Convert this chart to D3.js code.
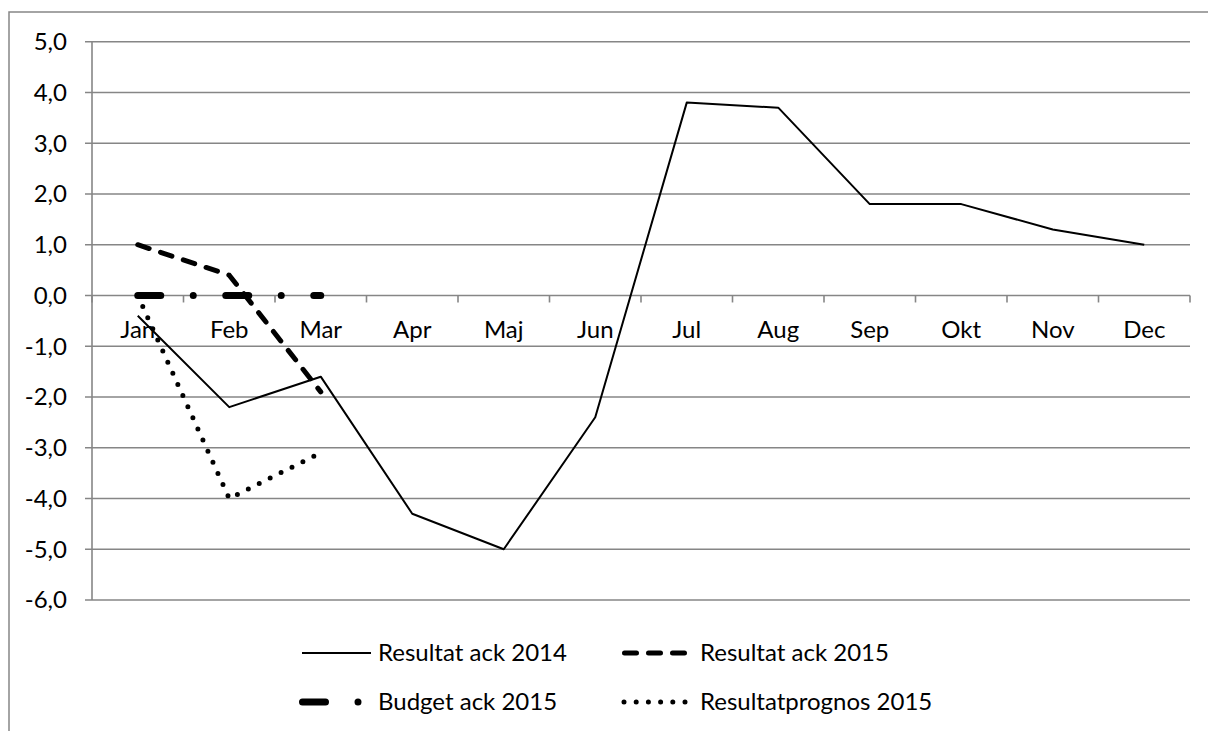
<!DOCTYPE html>
<html><head><meta charset="utf-8">
<script src="https://cdn.jsdelivr.net/npm/d3@7"></script>
<style>
html,body{margin:0;padding:0;background:#fff;}
svg{display:block;}
text{font-family:Lato,"Open Sans",sans-serif;fill:#000;}
</style></head>
<body>
<svg id="chart" width="1208" height="731"></svg>
<script>
const months = ["Jan","Feb","Mar","Apr","Maj","Jun","Jul","Aug","Sep","Okt","Nov","Dec"];
const resultat2014 = [-0.4,-2.2,-1.6,-4.3,-5.0,-2.4,3.8,3.7,1.8,1.8,1.3,1.0];
const resultat2015 = [1.0,0.4,-1.9];
const budget2015 = [0.0,0.0,0.0];
const prognos2015 = [0.0,-4.0,-3.1];
const yTicks = [5,4,3,2,1,0,-1,-2,-3,-4,-5,-6];
const seriesNames = ["Resultat ack 2014","Resultat ack 2015","Budget ack 2015","Resultatprognos 2015"];

const svg = d3.select("#chart");
const grey = "#868686";

// font sizing to match Calibri-like metrics
const probe = svg.append("text").attr("font-size",100).text("Resultat ack 2014");
const fs = 100 * 189 / probe.node().getComputedTextLength();
probe.remove();

// outer border
svg.append("rect").attr("x",9).attr("y",12).attr("width",1260).attr("height",760)
  .attr("fill","none").attr("stroke",grey).attr("stroke-width",1.5);

const x = d3.scaleBand().domain(months).range([92,1190]);
const y = d3.scaleLinear().domain([-6,5]).range([600,41.7]);
const cx = m => x(m) + x.bandwidth()/2;

// gridlines
svg.append("g").selectAll("line").data(yTicks).join("line")
  .attr("x1",85).attr("x2",1190)
  .attr("y1",d=>y(d)).attr("y2",d=>y(d))
  .attr("stroke",grey).attr("stroke-width",1.6);
// left axis line
svg.append("line").attr("x1",92).attr("x2",92).attr("y1",y(5)).attr("y2",y(-6))
  .attr("stroke",grey).attr("stroke-width",1.6);
// y tick labels
svg.append("g").selectAll("text").data(yTicks).join("text")
  .attr("x",67).attr("y",d=>y(d)).attr("dy","0.35em").attr("text-anchor","end")
  .attr("font-size",fs).text(d=>d3.format(".1f")(d).replace(".",",").replace("−","-"));

// x axis ticks at category boundaries along the zero line
const bounds = months.map(m=>x(m)).concat([x.range()[1]]);
svg.append("g").selectAll("line").data(bounds).join("line")
  .attr("x1",d=>d).attr("x2",d=>d).attr("y1",y(0)).attr("y2",y(0)+7)
  .attr("stroke",grey).attr("stroke-width",1.6);
svg.append("g").selectAll("text").data(months).join("text")
  .attr("x",d=>cx(d)).attr("y",330).attr("dy","0.35em").attr("text-anchor","middle")
  .attr("font-size",fs).text(d=>d);

const line = d3.line().x((d,i)=>cx(months[i])).y(d=>y(d));

const styles = [
  {w:2, dash:null, cap:"butt"},
  {w:5, dash:"12,12", cap:"round"},
  {w:7, dash:"23,32.5,0,32.5", cap:"round"},
  {w:5, dash:"0,12.2", cap:"round"}
];
const data = [resultat2014,resultat2015,budget2015,prognos2015];

data.forEach((d,i)=>{
  const s = styles[i];
  svg.append("path").datum(d).attr("d",line).attr("fill","none")
    .attr("stroke","#000").attr("stroke-width",s.w)
    .attr("stroke-linecap",s.cap).attr("stroke-linejoin","round")
    .attr("stroke-dasharray",s.dash);
});

// legend
const legPos = [
  {x1:302,x2:371,tx:378,ty:653},
  {x1:624.5,x2:686,tx:700,ty:653},
  {x1:302.5,x2:372,tx:378,ty:702},
  {x1:624,x2:686,tx:700,ty:702}
];
seriesNames.forEach((n,i)=>{
  const s = styles[i], p = legPos[i];
  svg.append("line").attr("x1",p.x1).attr("x2",p.x2).attr("y1",p.ty).attr("y2",p.ty)
    .attr("stroke","#000").attr("stroke-width",s.w).attr("stroke-linecap",s.cap)
    .attr("stroke-dasharray",s.dash);
  svg.append("text").attr("x",p.tx).attr("y",p.ty).attr("dy","0.35em")
    .attr("font-size",fs).text(n);
});
</script>
</body></html>
